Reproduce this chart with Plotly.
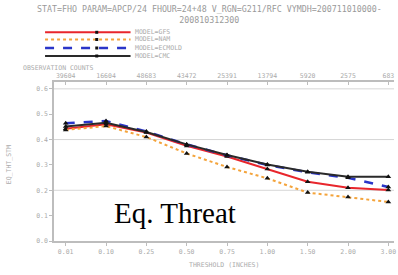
import plotly.graph_objects as go

# ---- data ----
thresholds = ["0.01", "0.10", "0.25", "0.50", "0.75", "1.00", "1.50", "2.00", "3.00"]
obs_counts = ["39604", "16604", "48683", "43472", "25391", "13794", "5920", "2575", "683"]
gfs = [0.443, 0.460, 0.428, 0.375, 0.333, 0.284, 0.234, 0.210, 0.201]
nam = [0.438, 0.453, 0.410, 0.345, 0.292, 0.247, 0.191, 0.174, 0.154]
ecmold = [0.464, 0.473, 0.432, 0.381, 0.338, 0.300, 0.271, 0.249, 0.213]
cmc = [0.452, 0.466, 0.430, 0.381, 0.339, 0.302, 0.273, 0.253, 0.253]
y_ticks = [0.0, 0.1, 0.2, 0.3, 0.4, 0.5, 0.6]
grid_levels = [0.2, 0.4, 0.6]

series = [
    ("MODEL=GFS", gfs, "#e8262c", "solid", 2.0),
    ("MODEL=NAM", nam, "#f4a43c", "dot", 2.0),
    ("MODEL=ECMOLD", ecmold, "#2a35c8", "dash", 2.5),
    ("MODEL=CMC", cmc, "#2a2a2a", "solid", 2.0),
]

W, H = 398, 275
L, R, T, B = 54, 2, 82, 34
pw, ph = W - L - R, H - T - B


def px(x):
    return (x - L) / pw


def py(y):
    return (H - B - y) / ph


MONO = "DejaVu Sans Mono"
GRAY = "#ababab"
AX = "#bdbdbd"
xi = list(range(len(thresholds)))

fig = go.Figure()
for name, vals, color, dash, width in series:
    fig.add_trace(go.Scatter(
        x=xi, y=vals, mode="lines+markers", name=name,
        line=dict(color=color, dash=dash, width=width),
        marker=dict(symbol="triangle-up", size=5, color="#111111"),
        showlegend=False,
    ))
# top axis carrier
fig.add_trace(go.Scatter(x=xi, y=[None] * len(xi), xaxis="x2", showlegend=False,
                         hoverinfo="skip"))

xr = [-0.29, 8.14]
tf = dict(family=MONO, size=6.5, color=GRAY)
fig.update_layout(
    width=W, height=H,
    margin=dict(l=L, r=R, t=T, b=B),
    paper_bgcolor="white", plot_bgcolor="white",
    xaxis=dict(range=xr, tickmode="array", tickvals=xi, ticktext=thresholds,
               showgrid=False, zeroline=False, showline=True, linecolor=AX,
               linewidth=1.5, ticks="outside", ticklen=3, tickcolor=AX,
               tickfont=tf, ticklabeloverflow="allow"),
    xaxis2=dict(range=xr, overlaying="x", side="top", tickmode="array", tickvals=xi,
                ticktext=obs_counts, showgrid=False, zeroline=False, showline=True,
                linecolor=AX, linewidth=1.5, ticks="inside", ticklen=3,
                tickcolor=AX, tickfont=tf, ticklabeloverflow="allow"),
    yaxis=dict(range=[0, 0.627], tickmode="array", tickvals=y_ticks,
               ticktext=[f"{v:.1f}" for v in y_ticks], showgrid=False, zeroline=False,
               showline=True, linecolor=AX, linewidth=1.5, ticks="outside",
               ticklen=3, tickcolor=AX, tickfont=tf),
    showlegend=False,
)

shapes = []
for g in grid_levels:
    shapes.append(dict(type="line", xref="paper", yref="y", x0=0, x1=1, y0=g, y1=g,
                       line=dict(color="#d6d6d6", width=1), layer="below"))

annotations = []
# legend drawn manually
leg_y = [32.3, 39.5, 48, 56]
for (name, vals, color, dash, width), ly in zip(series, leg_y):
    shapes.append(dict(type="line", xref="paper", yref="paper", x0=px(45), x1=px(131),
                       y0=py(ly), y1=py(ly), line=dict(color=color, dash=dash, width=width)))
    shapes.append(dict(type="rect", xref="paper", yref="paper", x0=px(95.5), x1=px(98.5),
                       y0=py(ly - 1.5), y1=py(ly + 1.5), fillcolor="#111111",
                       line=dict(width=0)))
    annotations.append(dict(text=name, xref="paper", yref="paper", x=px(133), y=py(ly),
                            xanchor="left", yanchor="middle", showarrow=False,
                            font=dict(family=MONO, size=6.5, color=GRAY)))

annotations += [
    dict(text="STAT=FHO PARAM=APCP/24 FHOUR=24+48 V_RGN=G211/RFC VYMDH=200711010000-<br>200810312300",
         xref="paper", yref="paper", x=px(210), y=py(2), xanchor="center", yanchor="top",
         showarrow=False, font=dict(family=MONO, size=8.3, color="#9a9a9a")),
    dict(text="OBSERVATION COUNTS", xref="paper", yref="paper", x=px(21), y=py(68),
         xanchor="left", yanchor="middle", showarrow=False,
         font=dict(family=MONO, size=6.5, color=GRAY)),
    dict(text="THRESHOLD (INCHES)", xref="paper", yref="paper", x=px(225), y=py(265),
         xanchor="center", yanchor="middle", showarrow=False,
         font=dict(family=MONO, size=6.5, color=GRAY)),
    dict(text="EQ_THT_STM", xref="paper", yref="paper", x=px(9), y=py(165),
         xanchor="center", yanchor="middle", showarrow=False, textangle=-90,
         font=dict(family=MONO, size=6.5, color=GRAY)),
    dict(text="Eq. Threat", xref="paper", yref="paper", x=px(176), y=py(213),
         xanchor="center", yanchor="middle", showarrow=False,
         font=dict(family="Liberation Serif", size=29, color="black")),
]
fig.update_layout(shapes=shapes, annotations=annotations)

fig.write_html("out.html", config={"displayModeBar": False},
               post_script="document.body.style.margin='0';")
